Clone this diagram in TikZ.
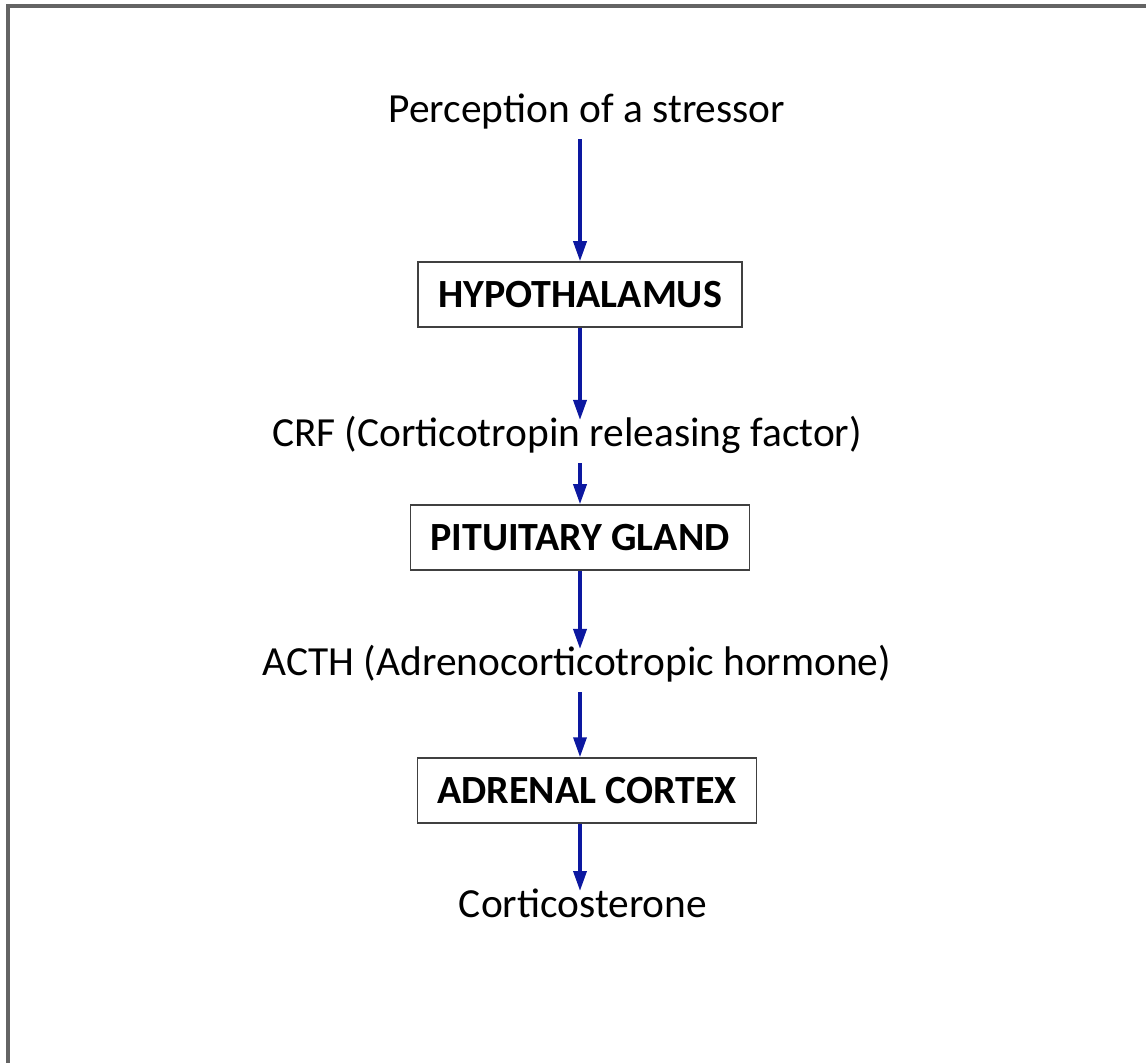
\documentclass[tikz,border=0pt]{standalone}
\usepackage{fontspec}
\setmainfont{Carlito}
\usepackage{tikz}
\usetikzlibrary{calc,positioning,arrows.meta}
\definecolor{arrblue}{RGB}{12,24,160}
\definecolor{frm}{RGB}{100,100,100}
\begin{document}
\begin{tikzpicture}[x=0.5pt, y=-0.5pt]
\tikzstyle{gland}=[draw=black!75, line width=0.75pt, fill=white, inner xsep=10pt,
                        minimum height=32.5pt, font=\fontsize{20}{24}\selectfont\bfseries]
\tikzstyle{txt}=[inner sep=0pt, text height=13.2pt, text depth=8pt,
                        font=\fontsize{20.7}{24}\selectfont]
\tikzstyle{arr}=[draw=arrblue, line width=1.75pt, -{Triangle[length=10pt,width=6.5pt]}]
\useasboundingbox (0,0) rectangle (1146,1063);
% frame
\draw[frm, line width=2pt] (8,1063) -- (8,6) -- (1146,6);
\coordinate (ax) at (580,0);
\node[txt, anchor=north] (stress) at (587,96) {Perception of a stressor};
\node[gland] (hyp) at (580,294.5) {HYPOTHALAMUS};
\node[txt, anchor=north] (crf) at (567,420) {CRF (Corticotropin releasing factor)};
\node[gland] (pit) at (580,537.5) {PITUITARY GLAND};
\node[txt, anchor=north] (acth) at (577,649) {ACTH (Adrenocorticotropic hormone)};
\node[gland] (adr) at (587,790.5) {ADRENAL CORTEX};
\node[txt, anchor=north] (cort) at (583,891) {Corticosterone};
\foreach \i/\j in {stress/hyp,hyp/crf,crf/pit,pit/acth,acth/adr,adr/cort}{\draw[arr] (\i.south -| ax) -- (\j.north -| ax);}
\end{tikzpicture}
\end{document}
